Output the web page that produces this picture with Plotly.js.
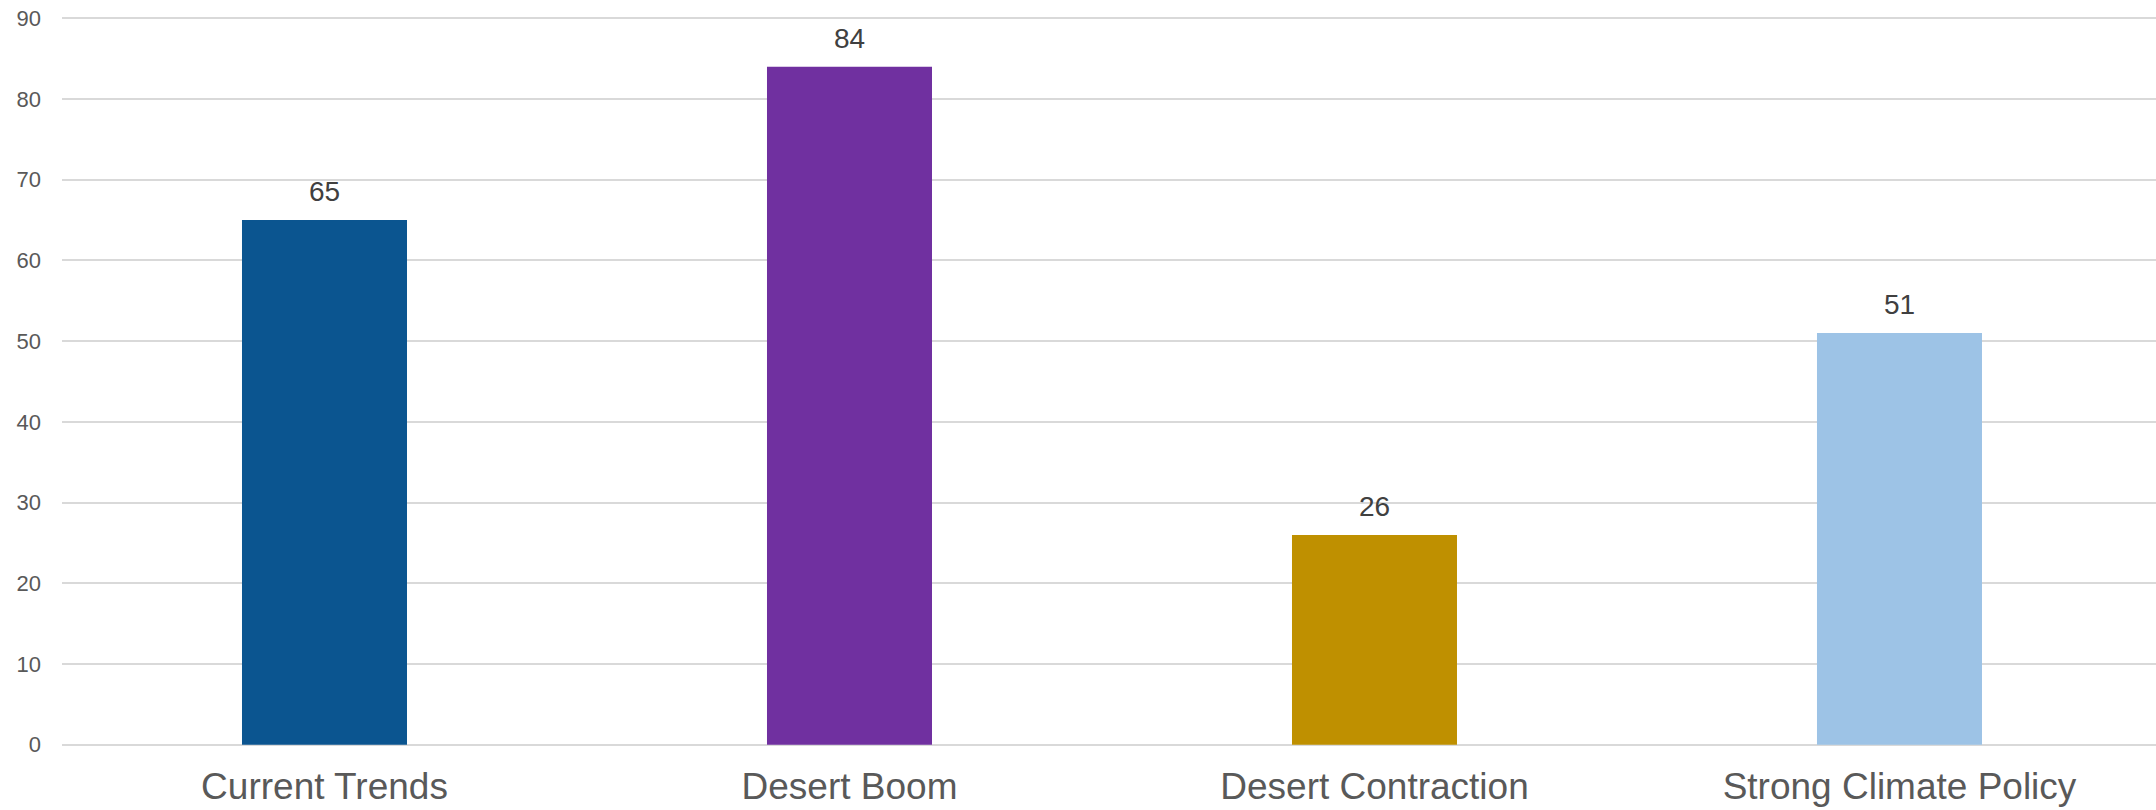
<!DOCTYPE html>
<html>
<head>
<meta charset="utf-8">
<script src="https://cdn.plot.ly/plotly-3.0.1.min.js"></script>
<style>html,body{margin:0;padding:0;background:#fff;}#chart{width:2156px;height:810px;}</style>
</head>
<body>
<div id="chart"></div>
<script>
const categories = ["Current Trends", "Desert Boom", "Desert Contraction", "Strong Climate Policy"];
const values = [65, 84, 26, 51];
const barColors = ["#0B5590", "#7030A0", "#BF9000", "#9DC3E6"];
const yTicks = [0, 10, 20, 30, 40, 50, 60, 70, 80, 90];

const trace = {
  type: "bar",
  x: categories,
  y: values,
  marker: {color: barColors},
  hoverinfo: "none",
  showlegend: false
};

const annotations = categories.map((c, i) => ({
  x: c, y: values[i], xref: "x", yref: "y",
  text: String(values[i]), showarrow: false,
  yanchor: "bottom", yshift: 11,
  font: {family: "Liberation Sans, Arial, sans-serif", size: 28, color: "#404040"}
}));

const layout = {
  width: 2156, height: 810,
  margin: {l: 62, r: 0, t: 17, b: 64},
  paper_bgcolor: "#fff", plot_bgcolor: "#fff",
  bargap: 0.6857,
  font: {family: "Liberation Sans, Arial, sans-serif", color: "#595959"},
  xaxis: {
    type: "category",
    range: [-0.5, 3.4886],
    showgrid: false, zeroline: false, showline: false,
    ticks: "", tickfont: {size: 37, color: "#595959"},
    ticklabelstandoff: 15
  },
  yaxis: {
    range: [-0.15, 90.15],
    tickvals: yTicks,
    showgrid: true, gridcolor: "#d9d9d9", gridwidth: 2,
    zeroline: false, showline: false, ticks: "",
    tickfont: {size: 22, color: "#595959"},
    ticklabelstandoff: 20
  },
  annotations: annotations
};

Plotly.newPlot("chart", [trace], layout, {displayModeBar: false, staticPlot: true});
</script>
</body>
</html>
